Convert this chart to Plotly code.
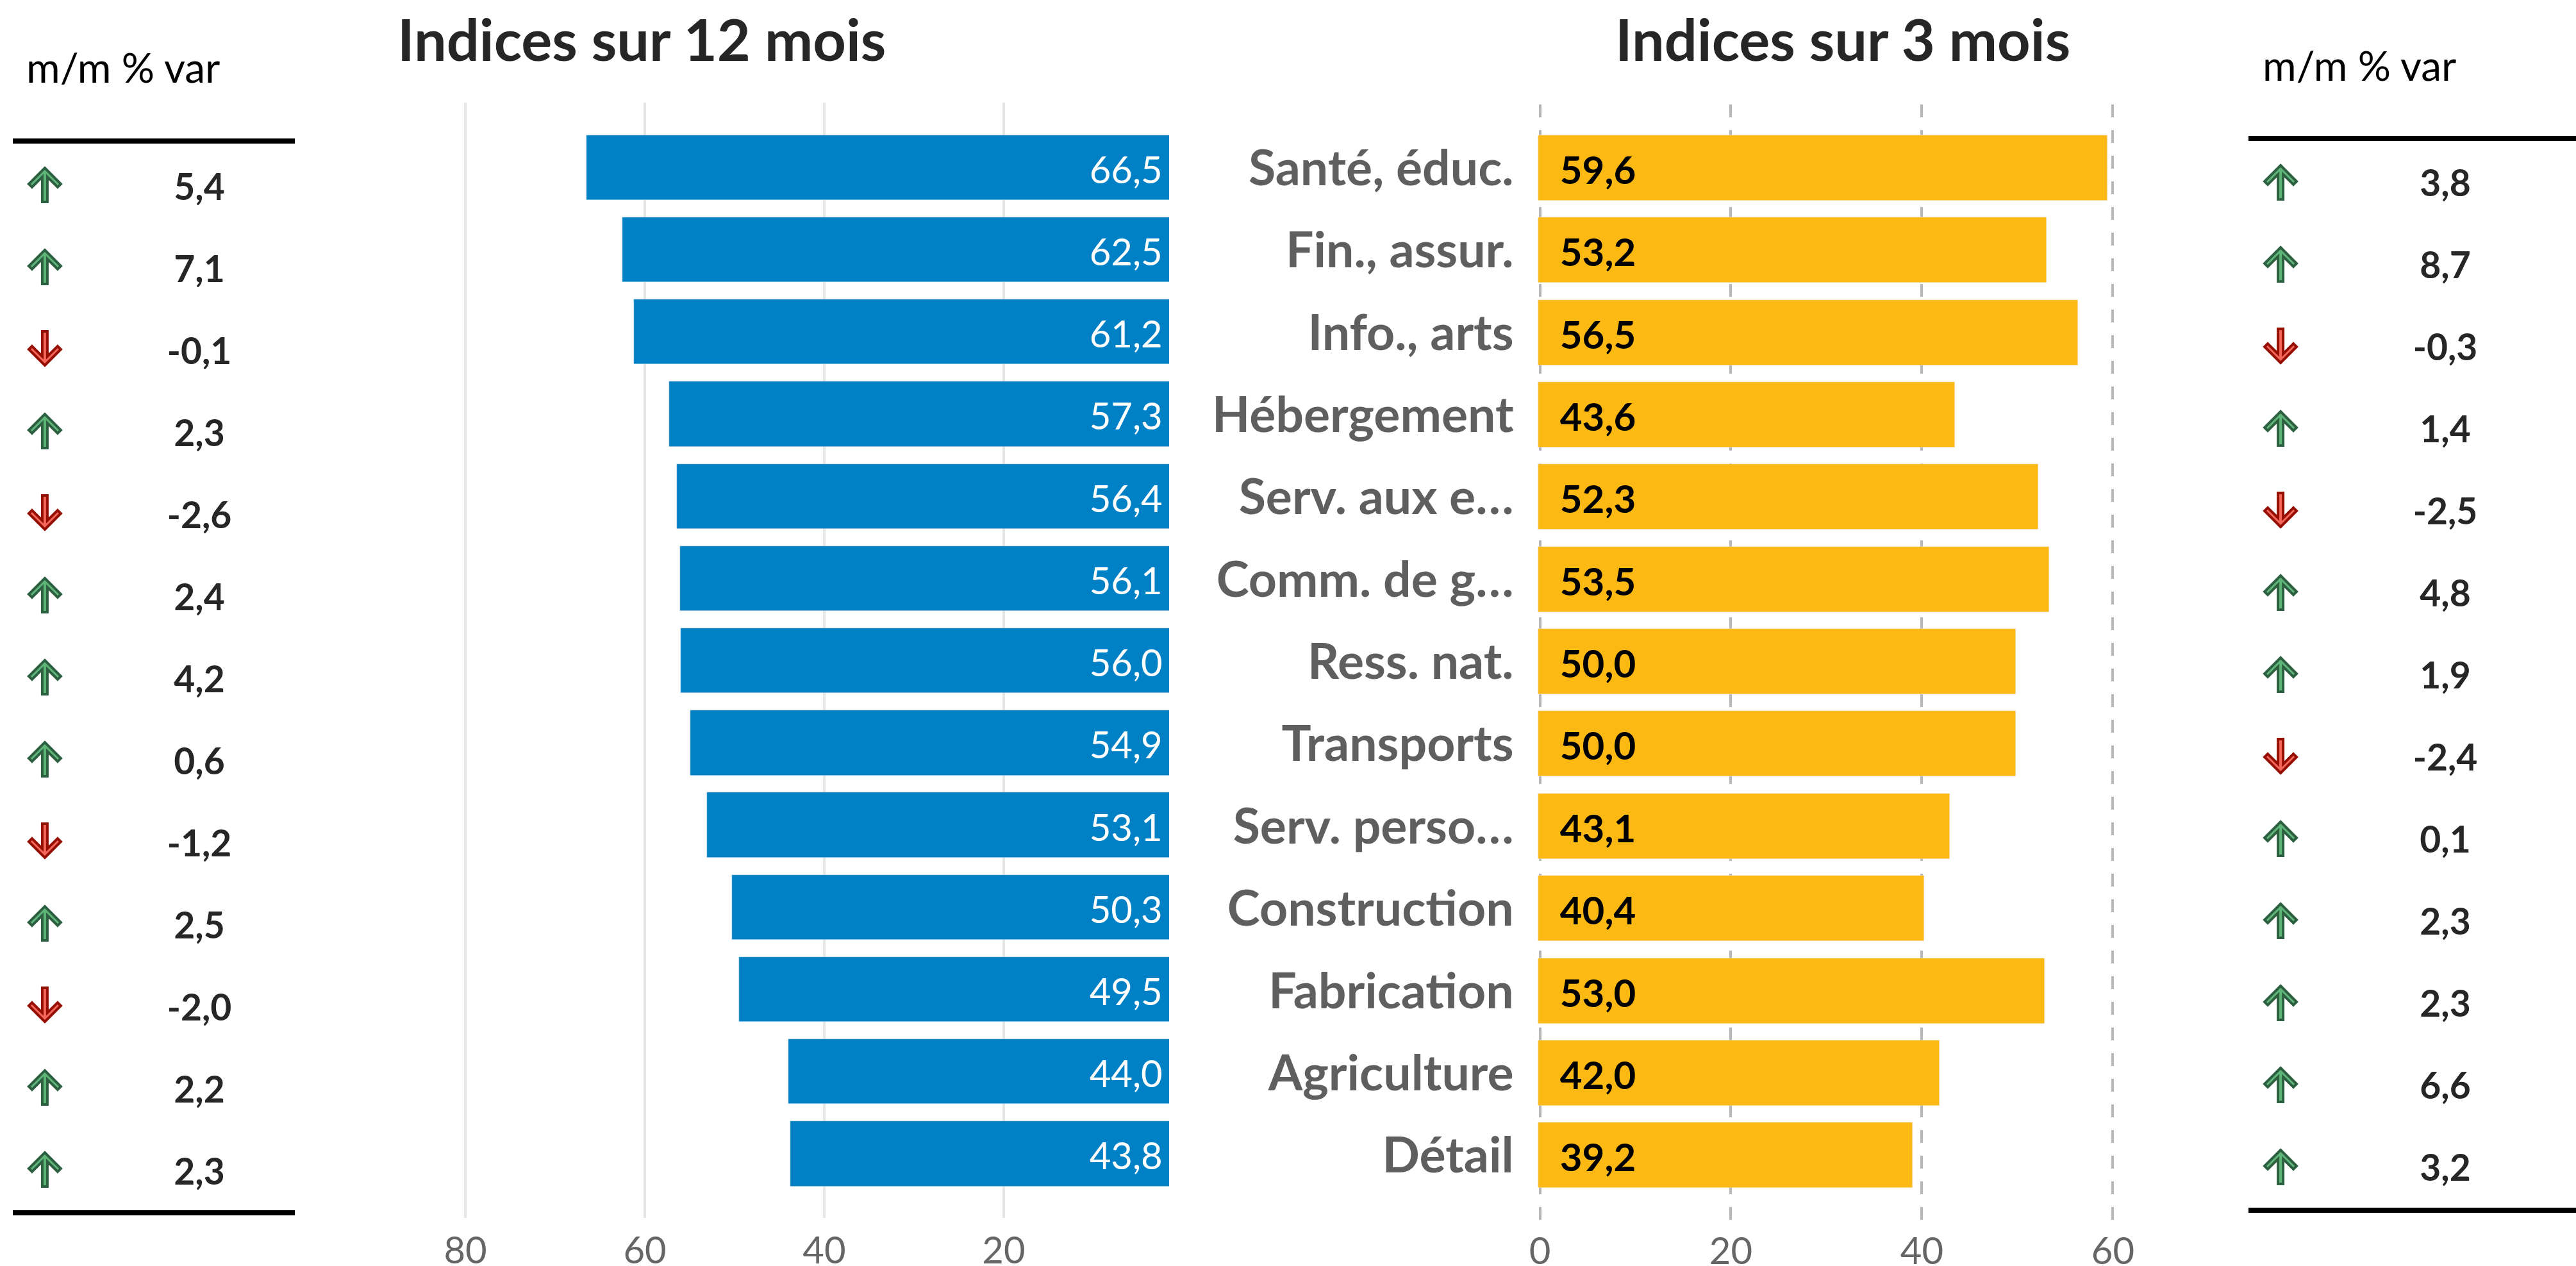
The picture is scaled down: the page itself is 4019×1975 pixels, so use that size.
import plotly.graph_objects as go

W, H = 4019, 1975
FONT = "Lato"

categories = ["Santé, éduc.", "Fin., assur.", "Info., arts", "Hébergement", "Serv. aux e…", "Comm. de g…",
              "Ress. nat.", "Transports", "Serv. perso…", "Construction", "Fabrication", "Agriculture", "Détail"]
idx_12m = [66.5, 62.5, 61.2, 57.3, 56.4, 56.1, 56.0, 54.9, 53.1, 50.3, 49.5, 44.0, 43.8]
idx_3m = [59.6, 53.2, 56.5, 43.6, 52.3, 53.5, 50.0, 50.0, 43.1, 40.4, 53.0, 42.0, 39.2]
mom_12m = [5.4, 7.1, -0.1, 2.3, -2.6, 2.4, 4.2, 0.6, -1.2, 2.5, -2.0, 2.2, 2.3]
mom_3m = [3.8, 8.7, -0.3, 1.4, -2.5, 4.8, 1.9, -2.4, 0.1, 2.3, 2.3, 6.6, 3.2]
ticks_12m = [20, 40, 60, 80]
ticks_3m = [0, 20, 40, 60]


def fr(values):
    return [f"{v:.1f}".replace(".", ",") for v in values]


def xdom(a, b):
    return [a / W, b / W]


def ydom(top, bottom):
    return [1 - bottom / H, 1 - top / H]


def text_axis(base, dom, rng, pitch, shift):
    # invisible overlay of a row axis: moves text down by `shift` pixels
    return dict(domain=dom, range=[rng[0] - shift / pitch, rng[1] - shift / pitch], overlaying=base, visible=False,
                showgrid=False, zeroline=False)


rows = list(range(len(categories)))
fig = go.Figure()

dom_l, rng_l = ydom(160, 1900), [12.78, -0.79]
dom_r, rng_r = ydom(163, 1905), [12.8, -0.77]
dom_t3, dom_t4, rng_t = ydom(224, 1888), ydom(220, 1884), [12.5, -0.5]

# left bars
fig.add_trace(go.Bar(y=rows, x=idx_12m, orientation="h", width=0.79, marker_color="#0081C6",
                     xaxis="x", yaxis="y", hoverinfo="skip"))
fig.add_trace(go.Scatter(y=rows, x=[2.3] * 13, mode="text", text=fr(idx_12m), textposition="middle left",
                         textfont=dict(family=FONT, size=58, color="white"), xaxis="x", yaxis="y5", hoverinfo="skip"))
# right bars
fig.add_trace(go.Bar(y=rows, x=idx_3m, base=-0.15, orientation="h", width=0.795, marker_color="#FDB913",
                     xaxis="x2", yaxis="y2", hoverinfo="skip"))
fig.add_trace(go.Scatter(y=rows, x=[2.1] * 13, mode="text", text=fr(idx_3m), textposition="middle right",
                         textfont=dict(family=FONT, size=60, color="black", weight=700), xaxis="x2", yaxis="y6",
                         hoverinfo="skip"))
# side tables
for xa, ya, vals in (("x3", "y7", mom_12m), ("x4", "y8", mom_3m)):
    fig.add_trace(go.Scatter(x=[1] * 13, y=rows, mode="text", text=fr(vals), textposition="middle center",
                             textfont=dict(family=FONT, size=57, color="#262626", weight=700),
                             xaxis=xa, yaxis=ya, hoverinfo="skip"))

# arrows, anchored on the table axes (pixel offsets, up is positive)
UP = "M0,26 L25,1 L20,-4 L4,12 L4,-27 L-4,-27 L-4,12 L-20,-4 L-25,1 Z"
DOWN = "M0,-26 L25,-1 L20,4 L4,-12 L4,27 L-4,27 L-4,-12 L-20,4 L-25,-1 Z"
shapes = []
for xa, ya, vals in (("x3", "y3", mom_12m), ("x4", "y4", mom_3m)):
    for r, v in zip(rows, vals):
        up = v >= 0
        shapes.append(dict(type="path", xref=xa, yref=ya, xsizemode="pixel", ysizemode="pixel",
                           xanchor=0, yanchor=r, path=UP if up else DOWN,
                           fillcolor="#5FB578" if up else "#F4665A",
                           line=dict(color="#2D6040" if up else "#960F03", width=4)))

axis_font = dict(family=FONT, size=58, color="#666666")
rule = dict(showline=True, mirror=True, linewidth=8, linecolor="black", showgrid=False, zeroline=False,
            showticklabels=False, ticks="")
hidden = dict(visible=False, showgrid=False, zeroline=False)

fig.update_layout(
    width=W, height=H, margin=dict(l=0, r=0, t=0, b=0, autoexpand=False), paper_bgcolor="white", plot_bgcolor="white",
    showlegend=False, bargap=0, shapes=shapes,
    xaxis=dict(domain=xdom(700, 1824), range=[81.86, 1.57], tickvals=ticks_12m, showgrid=True, gridcolor="#E6E6E6",
               gridwidth=4, zeroline=False, showline=False, ticks="", ticklabelstandoff=12,
               tickfont=axis_font, anchor="y"),
    yaxis=dict(domain=dom_l, range=rng_l, showticklabels=False, showgrid=False, zeroline=False, ticks="", anchor="x"),
    xaxis2=dict(domain=xdom(2398, 3330), range=[-0.302, 62.25], tickvals=ticks_3m, showgrid=True, gridcolor="#B8B8B8",
                griddash="20px,20px", gridwidth=4, zeroline=False, showline=False, ticks="", ticklabelstandoff=8,
                tickfont=axis_font, anchor="y2"),
    yaxis2=dict(domain=dom_r, range=rng_r, tickmode="array", tickvals=rows, ticktext=categories,
                showgrid=False, zeroline=False, ticks="outside", ticklen=20,
                tickcolor="rgba(0,0,0,0)", tickfont=dict(family=FONT, size=77, color="#5F5F5F", weight=700),
                anchor="x2"),
    xaxis3=dict(domain=xdom(20, 460), range=[-0.207, 1.618], anchor="y3", **rule),
    yaxis3=dict(domain=dom_t3, range=rng_t, anchor="x3", **hidden),
    xaxis4=dict(domain=xdom(3508, 4019), range=[-0.195, 1.794], anchor="y4", **rule),
    yaxis4=dict(domain=dom_t4, range=rng_t, anchor="x4", **hidden),
    yaxis5=text_axis("y", dom_l, rng_l, 128.2, 10),
    yaxis6=text_axis("y2", dom_r, rng_r, 128.3, 10),
    yaxis7=text_axis("y3", dom_t3, rng_t, 128, 10),
    yaxis8=text_axis("y4", dom_t4, rng_t, 128, 8),
)

for text, cx, cy, size, color, weight in (
    ("Indices sur 12 mois", 1001, 60, 90, "#262626", 700),
    ("Indices sur 3 mois", 2875, 60, 90, "#262626", 700),
    ("m/m % var", 192, 105, 64, "black", 400),
    ("m/m % var", 3681, 102, 64, "black", 400),
):
    fig.add_annotation(x=cx / W, y=1 - cy / H, xref="paper", yref="paper", text=text, showarrow=False,
                       xanchor="center", yanchor="middle",
                       font=dict(family=FONT, size=size, color=color, weight=weight))

fig.write_html("out.html", post_script="document.body.style.margin='0';",
               config={"displayModeBar": False})
